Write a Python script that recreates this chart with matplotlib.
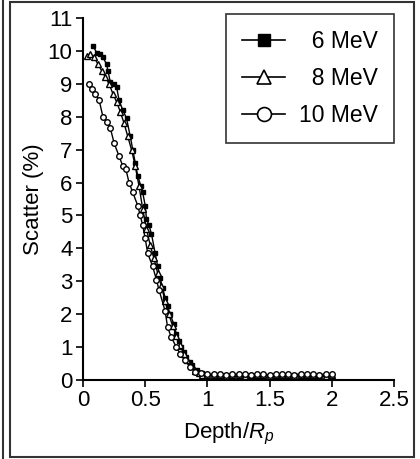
import matplotlib
matplotlib.use("Agg")
import matplotlib.pyplot as plt
from matplotlib.lines import Line2D
from matplotlib.patches import Rectangle

plt.rcParams['font.family'] = ['Liberation Sans', 'DejaVu Sans']
plt.rcParams['mathtext.fontset'] = 'custom'
plt.rcParams['mathtext.it'] = 'Liberation Sans:italic'
plt.rcParams['mathtext.rm'] = 'Liberation Sans'

labels = ["  6 MeV", "  8 MeV", "10 MeV"]

x6 = [0.08, 0.11, 0.14, 0.16, 0.19, 0.20, 0.22, 0.25, 0.27, 0.29, 0.32, 0.35, 0.38, 0.40,
      0.42, 0.44, 0.465, 0.48, 0.50, 0.51, 0.53, 0.55, 0.58, 0.60, 0.62, 0.64, 0.66, 0.68,
      0.70, 0.73, 0.75, 0.77, 0.79, 0.81, 0.83, 0.86, 0.88, 0.92, 0.96, 1.00, 1.05, 1.10,
      1.15, 1.20, 1.25, 1.30, 1.35, 1.40, 1.45, 1.50, 1.55, 1.60, 1.65, 1.70, 1.75, 1.80,
      1.85, 1.90, 1.95, 2.00]
y6 = [10.15, 9.95, 9.9, 9.8, 9.6, 9.4, 9.05, 9.0, 8.9, 8.5, 8.2, 7.95, 7.4, 7.0,
      6.6, 6.2, 5.9, 5.7, 5.3, 4.9, 4.7, 4.45, 3.85, 3.45, 3.1, 2.8, 2.5, 2.25,
      2.0, 1.7, 1.4, 1.2, 1.0, 0.85, 0.7, 0.55, 0.45, 0.3, 0.2, 0.15, 0.1, 0.12,
      0.08, 0.1, 0.12, 0.08, 0.1, 0.12, 0.1, 0.08, 0.12, 0.1, 0.1, 0.12, 0.08, 0.1,
      0.12, 0.1, 0.1, 0.12]

x8 = [0.03, 0.06, 0.09, 0.12, 0.15, 0.18, 0.21, 0.24, 0.27, 0.30, 0.33, 0.36, 0.39, 0.42,
      0.45, 0.48, 0.51, 0.54, 0.57, 0.60, 0.63, 0.66, 0.69, 0.72, 0.75, 0.78, 0.81, 0.84,
      0.87, 0.90, 0.93, 0.96, 1.00, 1.05, 1.10, 1.15, 1.20, 1.25, 1.30, 1.35, 1.40, 1.45,
      1.50, 1.55, 1.60, 1.65, 1.70, 1.75, 1.80, 1.85, 1.90, 1.95, 2.00]
y8 = [9.85, 9.9, 9.8, 9.6, 9.4, 9.2, 9.0, 8.7, 8.45, 8.15, 7.8, 7.4, 7.0, 6.5,
      5.9, 5.2, 4.6, 4.1, 3.7, 3.25, 2.85, 2.4, 2.0, 1.65, 1.35, 1.05, 0.8, 0.6,
      0.42, 0.28, 0.2, 0.16, 0.15, 0.14, 0.16, 0.13, 0.15, 0.16, 0.13, 0.15, 0.14, 0.16,
      0.13, 0.15, 0.16, 0.14, 0.13, 0.15, 0.16, 0.14, 0.15, 0.13, 0.15]

x10 = [0.05, 0.07, 0.10, 0.13, 0.16, 0.19, 0.22, 0.25, 0.29, 0.32, 0.345, 0.37, 0.40, 0.44,
       0.46, 0.48, 0.50, 0.52, 0.56, 0.59, 0.61, 0.66, 0.68, 0.71, 0.75, 0.78, 0.82, 0.86,
       0.90, 0.95, 1.00, 1.05, 1.10, 1.15, 1.20, 1.25, 1.30, 1.35, 1.40, 1.45, 1.50, 1.55,
       1.60, 1.65, 1.70, 1.75, 1.80, 1.85, 1.90, 1.95, 2.00]
y10 = [9.0, 8.85, 8.7, 8.5, 8.0, 7.85, 7.65, 7.2, 6.8, 6.5, 6.4, 6.0, 5.7, 5.3,
       5.0, 4.7, 4.3, 3.85, 3.45, 3.05, 2.75, 2.1, 1.6, 1.3, 1.0, 0.8, 0.6, 0.4,
       0.25, 0.2, 0.18, 0.17, 0.19, 0.16, 0.18, 0.17, 0.19, 0.16, 0.18, 0.17, 0.16, 0.19,
       0.17, 0.18, 0.16, 0.19, 0.17, 0.18, 0.16, 0.18, 0.17]

xticks = [0, 0.5, 1, 1.5, 2, 2.5]
xticklabels = ["0", "0.5", "1", "1.5", "2", "2.5"]
yticks = list(range(0, 12))

W, H = 420, 459
fig = plt.figure(figsize=(W / 100, H / 100), dpi=100)
ax = fig.add_axes([83 / W, 1 - 380 / H, (394 - 83) / W, (380 - 18) / H])

ax.plot(x6, y6, color='black', lw=1.0, marker='s', ms=3.5, mfc='black', mec='black', mew=1)
ax.plot(x8, y8, color='black', lw=1.0, marker='^', ms=4, mfc='white', mec='black', mew=1)
ax.plot(x10, y10, color='black', lw=1.0, marker='o', ms=4, mfc='white', mec='black', mew=1)

ax.set_xlim(0, 2.5)
ax.set_ylim(0, 11)
ax.set_xticks(xticks)
ax.set_xticklabels(xticklabels)
ax.set_yticks(yticks)
for s in ['top', 'right']:
    ax.spines[s].set_visible(False)
for s in ['left', 'bottom']:
    ax.spines[s].set_linewidth(1.5)
ax.tick_params(axis='both', direction='out', length=5, width=1.2, labelsize=16, pad=2.5)

ax.set_ylabel("Scatter (%)", fontsize=16, labelpad=2.5)
ax.set_xlabel(r"Depth/$R_p$", fontsize=16, labelpad=7, x=0.47)

handles = [
    Line2D([], [], color='black', lw=1.2, marker='s', ms=9, mfc='black', mec='black'),
    Line2D([], [], color='black', lw=1.2, marker='^', ms=10, mfc='white', mec='black', mew=1.2),
    Line2D([], [], color='black', lw=1.2, marker='o', ms=10, mfc='white', mec='black', mew=1.2),
]
leg = ax.legend(handles, labels, loc='upper right', bbox_to_anchor=(1.0, 1.01),
                fontsize=16.5, frameon=True, fancybox=False, edgecolor='black',
                handlelength=1.9, handletextpad=0.6, labelspacing=0.6,
                borderpad=0.7, borderaxespad=0.0)
leg.get_frame().set_linewidth(1.2)

# outer frame of the figure
fig.patches.append(Rectangle((9.5 / W, 1 - 457 / H), (414 - 9.5) / W, (457 - 2) / H,
                             transform=fig.transFigure, fill=False, ec='#333333', lw=1.5))
fig.lines.append(Line2D([2.5 / W, 2.5 / W], [0, 1], transform=fig.transFigure,
                        color='#333333', lw=1.5))

fig.savefig("out.png", dpi=100)
